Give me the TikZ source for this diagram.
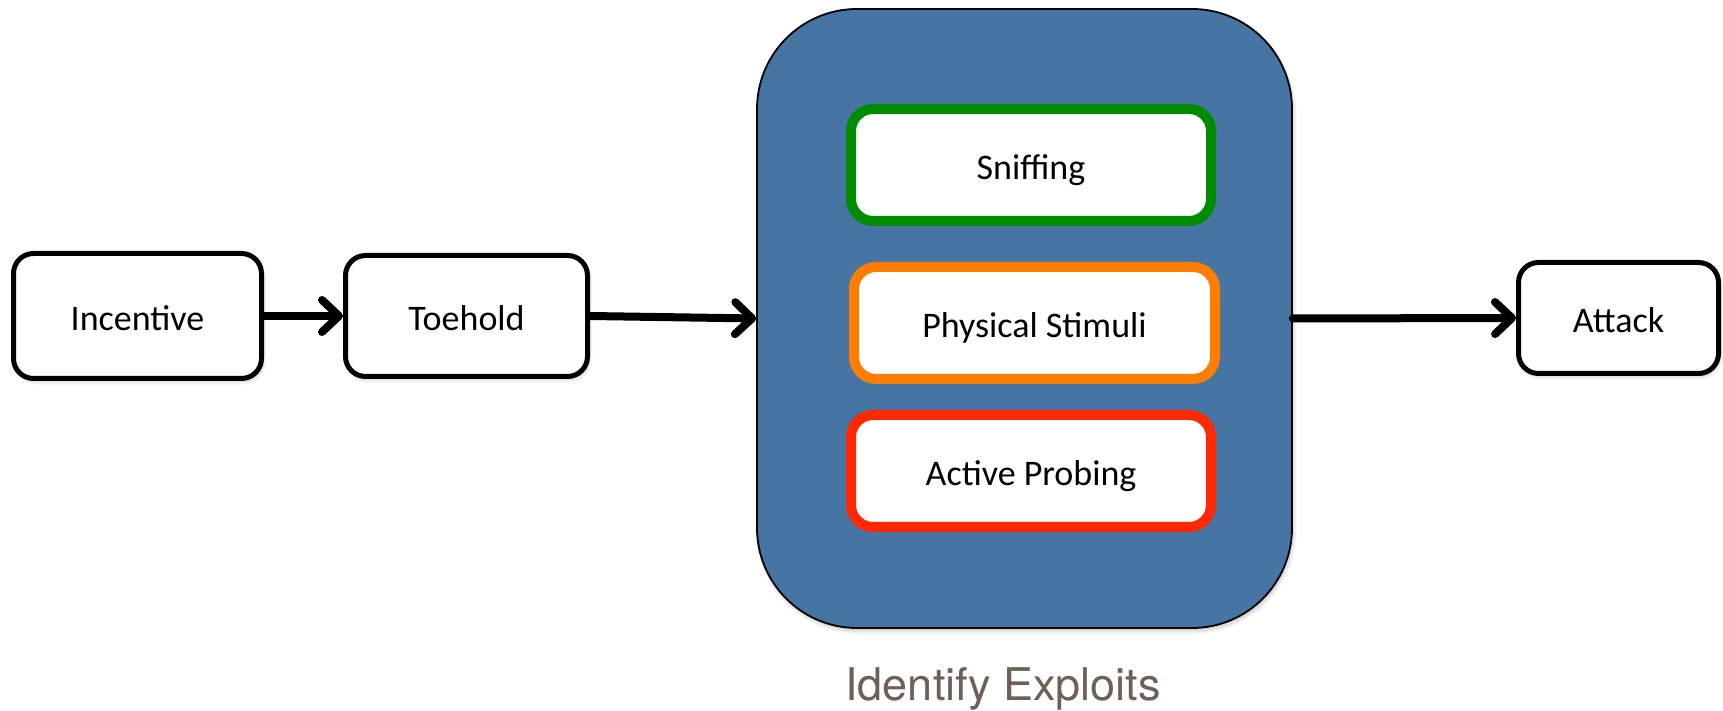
\documentclass[tikz,border=0pt]{standalone}
\usepackage{fontspec}
\newfontfamily\boxfont{Carlito}
\newfontfamily\capfont{TeX Gyre Heros}
\usetikzlibrary{arrows.meta,shadows.blur}
\definecolor{panelblue}{RGB}{70,116,163}
\definecolor{sniffgreen}{RGB}{0,140,0}
\definecolor{stimorange}{RGB}{255,125,0}
\definecolor{probered}{RGB}{255,40,0}
\definecolor{captiongray}{RGB}{110,96,86}
\tikzset{
  softshadow/.style={blur shadow={shadow blur steps=6,shadow xshift=1.5pt,shadow yshift=-3pt,shadow opacity=22,shadow blur radius=4pt}},
  boxtext/.style={font=\boxfont\fontsize{36}{40}\selectfont,text height=32pt,text depth=2pt},
  stagebox/.style={draw=black,line width=5pt,fill=white,rounded corners=20pt,
    boxtext,inner sep=0pt,softshadow},
  methodbox/.style={line width=10pt,fill=white,rounded corners=22pt,
    minimum width=360pt,minimum height=112pt,boxtext,inner sep=0pt},
  panel/.style={draw=black,line width=1.8pt,fill=panelblue,rounded corners=100pt,
    minimum width=535pt,minimum height=619pt,inner sep=0pt,softshadow},
  flow/.style={line width=8pt,line cap=round,
    -{Straight Barb[round,length=17pt,width=32pt]}},
}
\begin{document}
\begin{tikzpicture}[x=1pt,y=1pt]
\useasboundingbox (0,0) rectangle (1723,711);

% outer panel with the three exploit techniques
\node[panel] (panel) at (1024.5,392.5) {};
\node[methodbox,draw=sniffgreen] (sniff) at (1031,546) {Sniffing};
\node[methodbox,draw=stimorange,minimum width=361pt] (stim) at (1034.5,388) {Physical Stimuli};
\node[methodbox,draw=probered] (probe) at (1031,240) {Active Probing};
\node[font=\capfont\fontsize{45}{50}\selectfont,text=captiongray,anchor=base] (cap) at (1003,10) {Identify Exploits};

% stages of the attack
\node[stagebox,minimum width=248pt,minimum height=125pt] (inc) at (137.5,395) {Incentive};
\node[stagebox,minimum width=242pt,minimum height=121pt] (toe) at (466.5,395) {Toehold};
\node[stagebox,minimum width=200pt,minimum height=111pt] (att) at (1618.5,393) {Attack};

% flow between stages
\draw[flow] (inc.east) -- (toe.west);
\draw[flow] (toe.east) -- (panel.west);
\draw[flow] (panel.east) -- (att.west);
\end{tikzpicture}
\end{document}
